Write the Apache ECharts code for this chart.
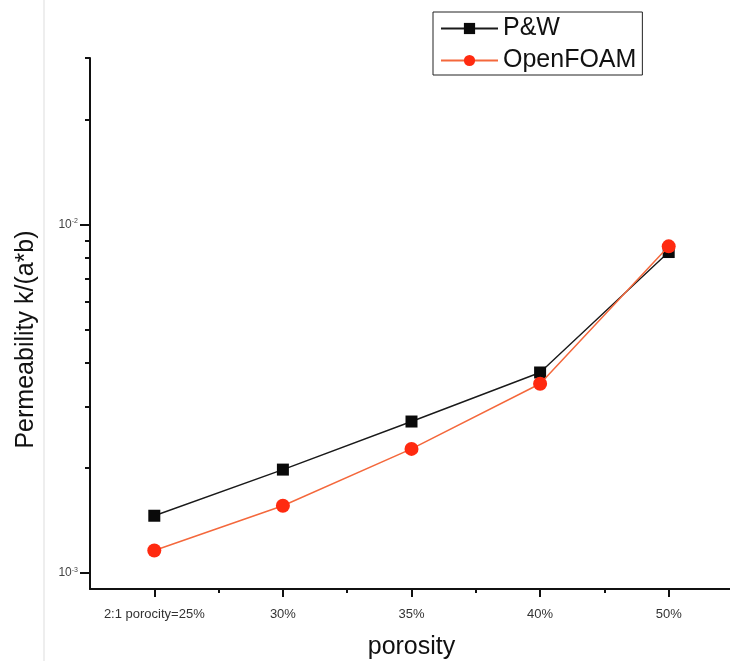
<!DOCTYPE html>
<html>
<head>
<meta charset="utf-8">
<script src="https://cdn.jsdelivr.net/npm/echarts@6/dist/echarts.min.js"></script>
<style>
  html, body { margin: 0; padding: 0; background: #fff; }
  #chart { width: 730px; height: 661px; }
</style>
</head>
<body>
<div id="chart"></div>
<script>
// Porosity cases along the x axis
const categories = ['2:1 porocity=25%', '30%', '35%', '40%', '50%'];
// Permeability k/(a*b) per case
const pwValues = [1.46e-3, 1.98e-3, 2.72e-3, 3.76e-3, 8.33e-3];
const foamValues = [1.16e-3, 1.56e-3, 2.27e-3, 3.49e-3, 8.65e-3];
// Log-axis ticks: labelled decades and unlabelled intermediate ticks
const yMajorTicks = [1e-3, 1e-2];
const yMinorTicks = [2e-3, 3e-3, 4e-3, 5e-3, 6e-3, 7e-3, 8e-3, 9e-3, 2e-2, 3e-2];
const yMin = 9e-4;
const yMax = 3e-2;

const xPos = categories.map((_, i) => i + 1);
const xMinor = xPos.slice(0, -1).map(v => v + 0.5);
const toPairs = vals => vals.map((v, i) => [xPos[i], v]);

const FONT = 'Liberation Sans, Arial, sans-serif';
const AXIS_COLOR = '#111';

const chart = echarts.init(document.getElementById('chart'), null, { renderer: 'canvas' });

chart.setOption({
  backgroundColor: '#fff',
  animation: false,
  textStyle: { fontFamily: FONT },
  graphic: [{
    type: 'rect',
    silent: true,
    z: -10,
    shape: { x: 43, y: 0, width: 2, height: 661 },
    style: { fill: '#eeeeee' }
  }],
  legend: {
    left: 433,
    top: 12,
    orient: 'vertical',
    backgroundColor: '#fff',
    borderColor: '#222',
    borderWidth: 1,
    borderRadius: 0,
    padding: [4, 6, 2, 7],
    itemWidth: 57,
    itemHeight: 14,
    itemGap: 7,
    textStyle: { fontSize: 25, color: '#111', fontFamily: FONT },
    data: ['P&W', 'OpenFOAM']
  },
  grid: { left: 90, right: -3, top: 58, bottom: 72, containLabel: false, outerBoundsMode: 'none' },
  xAxis: [{
    type: 'value',
    min: 0.5,
    max: 5.5,
    position: 'bottom',
    name: 'porosity',
    nameLocation: 'middle',
    nameGap: 46,
    nameTextStyle: { fontSize: 25, color: '#111', fontFamily: FONT },
    axisLine: { show: true, onZero: false, lineStyle: { color: AXIS_COLOR, width: 2 } },
    axisTick: { show: true, customValues: xPos, length: 8, lineStyle: { color: AXIS_COLOR, width: 2 } },
    axisLabel: {
      customValues: xPos,
      margin: 19,
      fontSize: 13,
      color: '#333',
      formatter: v => categories[Math.round(v) - 1]
    },
    splitLine: { show: false }
  }, {
    type: 'value',
    min: 0.5,
    max: 5.5,
    position: 'bottom',
    axisLine: { show: false },
    axisTick: { show: true, customValues: xMinor, length: 4, lineStyle: { color: AXIS_COLOR, width: 2 } },
    axisLabel: { show: false },
    splitLine: { show: false }
  }],
  yAxis: [{
    type: 'log',
    logBase: 10,
    min: yMin,
    max: yMax,
    position: 'left',
    name: 'Permeability k/(a*b)',
    nameLocation: 'middle',
    nameGap: 51,
    nameRotate: 90,
    nameTextStyle: { fontSize: 25, color: '#111', fontFamily: FONT, padding: [0, 32, 0, 0] },
    axisLine: { show: true, onZero: false, lineStyle: { color: AXIS_COLOR, width: 2 } },
    axisTick: { show: true, customValues: yMajorTicks, length: 10, lineStyle: { color: AXIS_COLOR, width: 2 } },
    axisLabel: {
      customValues: yMajorTicks,
      margin: 12,
      formatter: v => '{b|10}{s|' + Math.round(Math.log10(v)) + '}',
      rich: {
        b: { fontSize: 12, color: '#444', fontFamily: FONT },
        s: { fontSize: 7, color: '#444', fontFamily: FONT, verticalAlign: 'top', padding: [0, 0, 6, 0] }
      }
    },
    splitLine: { show: false }
  }, {
    type: 'log',
    logBase: 10,
    min: yMin,
    max: yMax,
    position: 'left',
    axisLine: { show: false },
    axisTick: { show: true, customValues: yMinorTicks, length: 5, lineStyle: { color: AXIS_COLOR, width: 2 } },
    axisLabel: { show: false },
    splitLine: { show: false }
  }],
  series: [{
    name: 'P&W',
    type: 'line',
    xAxisIndex: 0,
    yAxisIndex: 0,
    data: toPairs(pwValues),
    symbol: 'rect',
    symbolSize: 12,
    color: '#0a0a0a',
    lineStyle: { color: '#1a1a1a', width: 1.4 },
    itemStyle: { color: '#0a0a0a' },
    z: 2
  }, {
    name: 'OpenFOAM',
    type: 'line',
    xAxisIndex: 0,
    yAxisIndex: 0,
    data: toPairs(foamValues),
    symbol: 'circle',
    symbolSize: 14,
    color: '#ff2a10',
    lineStyle: { color: '#f4683c', width: 1.5 },
    itemStyle: { color: '#ff2a10' },
    z: 3
  }]
});
</script>
</body>
</html>
